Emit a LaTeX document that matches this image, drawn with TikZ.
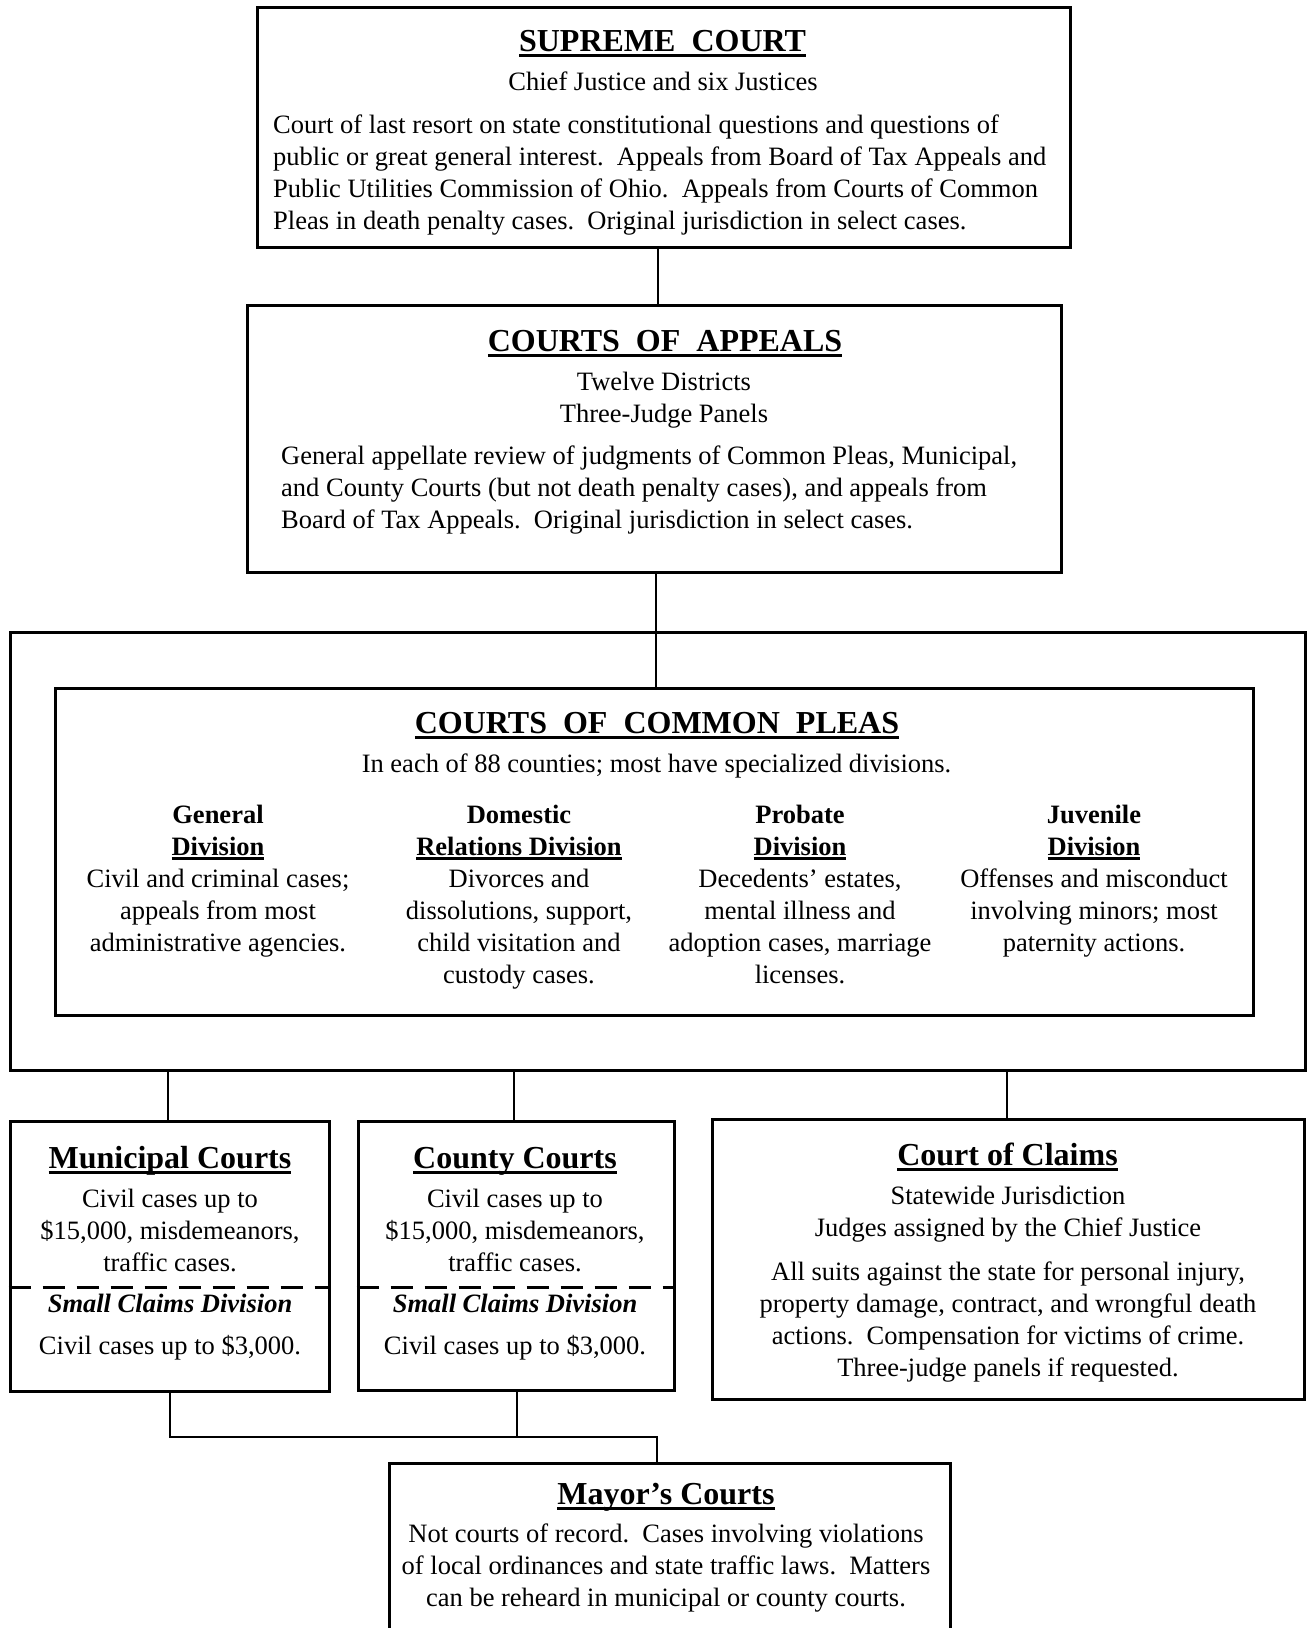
\documentclass[tikz,border=0pt]{standalone}
\usepackage{fontspec}
\setmainfont{Liberation Serif}
\newcommand\ulbig[1]{\setbox0\hbox{#1}\rlap{\rule[-5.5pt]{\wd0}{2.6pt}}\box0}
\newcommand\ulsmall[1]{\setbox0\hbox{#1}\rlap{\rule[-4.5pt]{\wd0}{2.2pt}}\box0}
\tikzset{
  box/.style={draw, line width=3pt, inner sep=0pt, rectangle},
  link/.style={line width=2pt},
  dashline/.style={line width=3pt, dash pattern=on 22pt off 12pt},
  bodyt/.style={font=\fontsize{26.5}{32}\selectfont, inner sep=0pt, anchor=base},
  ttl/.style={font=\fontsize{32}{38}\selectfont\bfseries, inner sep=0pt, anchor=base}
}
\begin{document}
\begin{tikzpicture}[x=1pt,y=-1pt]
\useasboundingbox (0,0) rectangle (1307,1628);
\clip (0,0) rectangle (1307,1628);
\fill[white] (0,0) rectangle (1307,1628);
% boxes
\node[box, minimum width=813pt, minimum height=240pt] (sup) at (663.5,127) {};
\node[box, minimum width=814pt, minimum height=267pt] (app) at (654,438.5) {};
\node[box, minimum width=1295.5pt, minimum height=438pt] (frame) at (657.75,851) {};
\node[box, minimum width=1198pt, minimum height=327pt] (cp) at (654,851.5) {};
\node[box, minimum width=319pt, minimum height=270pt] (mun) at (169.5,1256) {};
\node[box, minimum width=316pt, minimum height=269pt] (cty) at (516,1255.5) {};
\node[box, minimum width=592pt, minimum height=280pt] (clm) at (1008,1259) {};
\node[box, minimum width=561pt, minimum height=197pt] (may) at (669.5,1561.5) {};
% connector x positions
\coordinate (k1) at (658,0);
\coordinate (k2) at (656,0);
\coordinate (k3) at (168,0);
\coordinate (k4) at (514,0);
\coordinate (k5) at (1007,0);
\coordinate (k6) at (170,0);
\coordinate (k7) at (517,0);
\coordinate (k8) at (657,0);
\coordinate (hy) at (0,1437);
\coordinate (dy) at (0,1287);
% connectors
\draw[link] (sup.south -| k1) -- (app.north -| k1);
\draw[link] (app.south -| k2) -- (cp.north -| k2);
\draw[link] (frame.south -| k3) -- (mun.north -| k3);
\draw[link] (frame.south -| k4) -- (cty.north -| k4);
\draw[link] (frame.south -| k5) -- (clm.north -| k5);
\draw[link] (mun.south -| k6) -- (k6 |- hy) -- (k8 |- hy) -- (may.north -| k8);
\draw[link] (cty.south -| k7) -- (k7 |- hy);
% dashed separators
\draw[dashline] (mun.west |- dy) -- (mun.east |- dy);
\draw[dashline] (cty.west |- dy) -- (cty.east |- dy);
% supreme court (multi-line nodes: base = last line baseline)
\node[ttl] (supT) at (662.5,51) {\ulbig{SUPREME\ \ COURT}};
\node[bodyt] (supS) at (663,90) {Chief Justice and six Justices};
\node[bodyt, align=left, anchor=base west] (supB) at (273,229) {Court of last resort on state constitutional questions and questions of\\public or great general interest.\ \ Appeals from Board of Tax Appeals and\\Public Utilities Commission of Ohio.\ \ Appeals from Courts of Common\\Pleas in death penalty cases.\ \ Original jurisdiction in select cases.};
% appeals
\node[ttl] (appT) at (665,351) {\ulbig{COURTS\ \ OF\ \ APPEALS}};
\node[bodyt, align=center] (appS) at (664,422) {Twelve Districts\\Three-Judge Panels};
\node[bodyt, align=left, anchor=base west] (appB) at (281,528) {General appellate review of judgments of Common Pleas, Municipal,\\and County Courts (but not death penalty cases), and appeals from\\Board of Tax Appeals.\ \ Original jurisdiction in select cases.};
% common pleas
\node[ttl] (cpT) at (657,733) {\ulbig{COURTS\ \ OF\ \ COMMON\ \ PLEAS}};
\node[bodyt] (cpS) at (656.5,772) {In each of 88 counties; most have specialized divisions.};
\node[bodyt, align=center] (d1) at (218,951) {\textbf{General}\\\textbf{\ulsmall{Division}}\\Civil and criminal cases;\\appeals from most\\administrative agencies.};
\node[bodyt, align=center] (d2) at (519,983) {\textbf{Domestic}\\\textbf{\ulsmall{Relations Division}}\\Divorces and\\dissolutions, support,\\child visitation and\\custody cases.};
\node[bodyt, align=center] (d3) at (800,983) {\textbf{Probate}\\\textbf{\ulsmall{Division}}\\Decedents’ estates,\\mental illness and\\adoption cases, marriage\\licenses.};
\node[bodyt, align=center] (d4) at (1094,951) {\textbf{Juvenile}\\\textbf{\ulsmall{Division}}\\Offenses and misconduct\\involving minors; most\\paternity actions.};
% municipal
\node[ttl] (munT) at (170,1168) {\ulbig{Municipal Courts}};
\node[bodyt, align=center] (munB) at (170,1271) {Civil cases up to\\\$15,000, misdemeanors,\\traffic cases.};
\node[bodyt] (munS) at (170,1312) {\textbf{\textit{Small Claims Division}}};
\node[bodyt] (munC) at (170,1354) {Civil cases up to \$3,000.};
% county
\node[ttl] (ctyT) at (515,1168) {\ulbig{County Courts}};
\node[bodyt, align=center] (ctyB) at (515,1271) {Civil cases up to\\\$15,000, misdemeanors,\\traffic cases.};
\node[bodyt] (ctyS) at (515,1312) {\textbf{\textit{Small Claims Division}}};
\node[bodyt] (ctyC) at (515,1354) {Civil cases up to \$3,000.};
% claims
\node[ttl] (clmT) at (1007.5,1165) {\ulbig{Court of Claims}};
\node[bodyt, align=center] (clmS) at (1008,1236) {Statewide Jurisdiction\\Judges assigned by the Chief Justice};
\node[bodyt, align=center] (clmB) at (1008,1376) {All suits against the state for personal injury,\\property damage, contract, and wrongful death\\actions.\ \ Compensation for victims of crime.\\Three-judge panels if requested.};
% mayor
\node[ttl] (mayT) at (666,1504) {\ulbig{Mayor’s Courts}};
\node[bodyt, align=center] (mayB) at (666,1606) {Not courts of record.\ \ Cases involving violations\\of local ordinances and state traffic laws.\ \ Matters\\can be reheard in municipal or county courts.};
\end{tikzpicture}
\end{document}
